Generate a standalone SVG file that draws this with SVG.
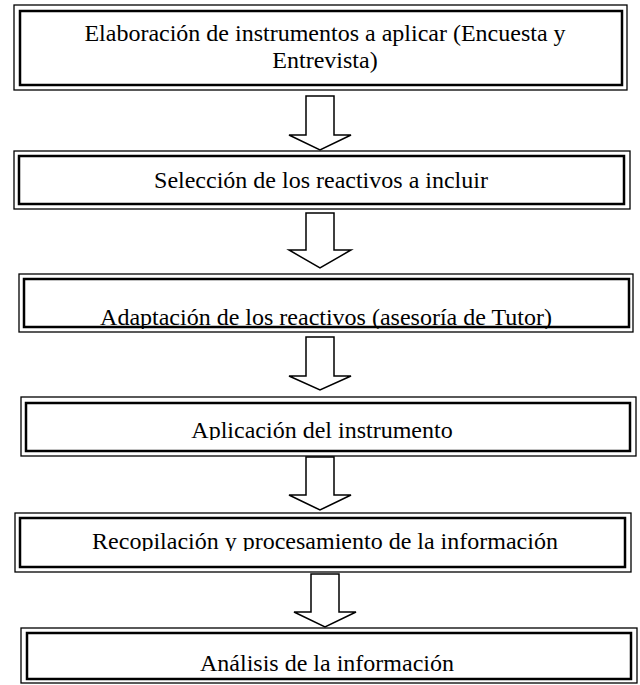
<svg xmlns="http://www.w3.org/2000/svg" width="640" height="685" viewBox="0 0 640 685">
<style>
.o{fill:none;stroke:#000;stroke-width:1.3}
.i{fill:none;stroke:#000;stroke-width:2.5}
.t{font-family:"Liberation Serif","Times New Roman",serif;font-size:24px;fill:#000;text-anchor:middle}
.a{fill:#fff;stroke:#000;stroke-width:1.5;stroke-linejoin:miter}
</style>
<defs>
<clipPath id="c3"><rect x="24" y="279" width="605" height="50"/></clipPath>
<clipPath id="c4"><rect x="26" y="403" width="604" height="37"/></clipPath>
<clipPath id="c5"><rect x="20" y="518" width="605" height="33"/></clipPath>
</defs>
<rect width="640" height="685" fill="#fff"/>
<g id="connectors">
<polygon class="a" points="306,96 334,96 334,135 351,135 320,150 289,135 306,135"/>
<polygon class="a" points="306,213 334,213 334,250 351,250 320,268 289,250 306,250"/>
<polygon class="a" points="306,337 334,337 334,376 351,376 320,390 289,376 306,376"/>
<polygon class="a" points="306,457 334,457 334,495 351,495 320,510 289,495 306,495"/>
<polygon class="a" points="311,574 339,574 339,612 356,612 325,627 294,612 311,612"/>
</g>
<g id="n1">
<rect class="o" x="14" y="5" width="613" height="85"/>
<rect class="i" x="20" y="11" width="602" height="74"/>
<text class="t" x="325" y="41">Elaboración de instrumentos a aplicar (Encuesta y</text>
<text class="t" x="325" y="68">Entrevista)</text>
</g>
<g id="n2">
<rect class="o" x="14" y="151" width="616" height="58"/>
<rect class="i" x="19" y="156" width="605" height="48"/>
<text class="t" x="321" y="188">Selección de los reactivos a incluir</text>
</g>
<g id="n3">
<rect class="o" x="19" y="274" width="614" height="58"/>
<rect class="i" x="24" y="279" width="605" height="48"/>
<text class="t" x="326" y="325" clip-path="url(#c3)">Adaptación de los reactivos (asesoría de Tutor)</text>
</g>
<g id="n4">
<rect class="o" x="21" y="397" width="615" height="59"/>
<rect class="i" x="26" y="403" width="604" height="48"/>
<text class="t" x="322" y="438" clip-path="url(#c4)">Aplicación del instrumento</text>
</g>
<g id="n5">
<rect class="o" x="15" y="513" width="616" height="59"/>
<rect class="i" x="20" y="518" width="605" height="49"/>
<text class="t" x="325" y="549" clip-path="url(#c5)">Recopilación y procesamiento de la información</text>
</g>
<g id="n6">
<rect class="o" x="21" y="628" width="616" height="55"/>
<rect class="i" x="27" y="633" width="604" height="46"/>
<text class="t" x="327" y="671">Análisis de la información</text>
</g>
</svg>
